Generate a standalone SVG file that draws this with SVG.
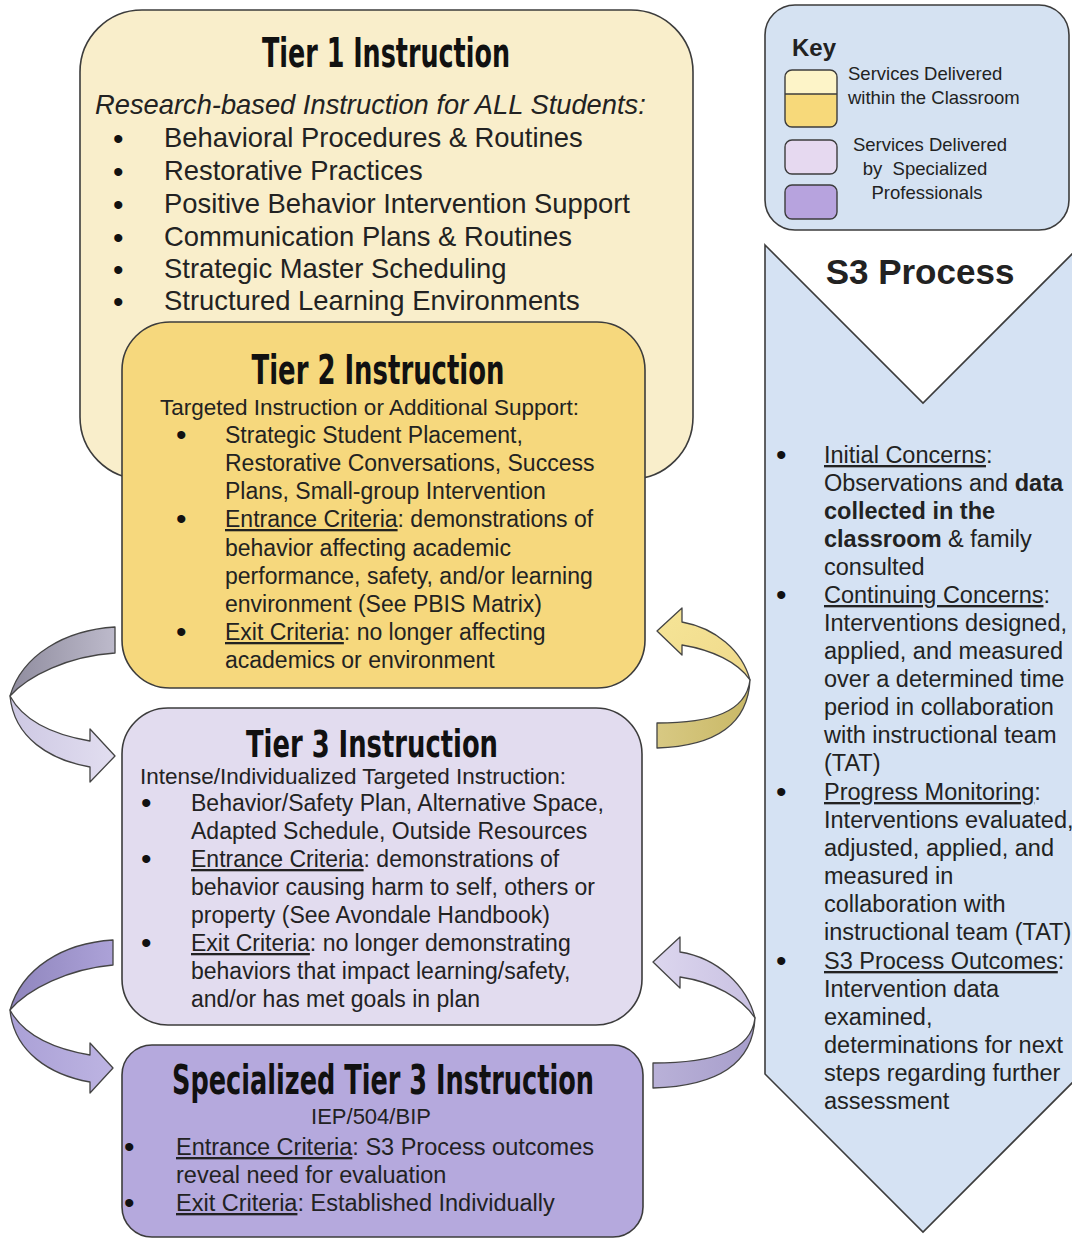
<svg xmlns="http://www.w3.org/2000/svg" width="1072" height="1239" viewBox="0 0 1072 1239">
<style>
.box{stroke:#3c3c3c;stroke-width:1.6}
.t{font-family:"Liberation Sans",Arial,sans-serif;fill:#222}
.b{font-size:30px;fill:#111}
.title{font-family:"DejaVu Sans Condensed","Liberation Sans Narrow","DejaVu Sans",sans-serif;font-weight:bold;fill:#111}
.arr{stroke:#444;stroke-width:1.3;stroke-linejoin:round}
.u{text-decoration:underline}
</style>
<defs>
<linearGradient id="gGray" x1="0" y1="0" x2="1" y2="0"><stop offset="0" stop-color="#8f8c9e"/><stop offset="1" stop-color="#bdbacb"/></linearGradient>
<linearGradient id="gLav" x1="0" y1="0" x2="1" y2="0"><stop offset="0" stop-color="#cdc8e3"/><stop offset="1" stop-color="#e2def0"/></linearGradient>
<linearGradient id="gYel" x1="0" y1="0" x2="1" y2="1"><stop offset="0" stop-color="#f6e597"/><stop offset="1" stop-color="#efd98b"/></linearGradient>
<linearGradient id="gOlive" x1="0" y1="0" x2="1" y2="0"><stop offset="0" stop-color="#d8c983"/><stop offset="1" stop-color="#c9b866"/></linearGradient>
<linearGradient id="gPur1" x1="0" y1="0" x2="1" y2="0"><stop offset="0" stop-color="#8f85bd"/><stop offset="1" stop-color="#aca2d8"/></linearGradient>
<linearGradient id="gPur2" x1="0" y1="0" x2="1" y2="0"><stop offset="0" stop-color="#aaa0d6"/><stop offset="1" stop-color="#bdb4e2"/></linearGradient>
<linearGradient id="gLav2" x1="0" y1="0" x2="1" y2="0"><stop offset="0" stop-color="#dcd6ee"/><stop offset="1" stop-color="#c9c1e2"/></linearGradient>
<linearGradient id="gLav3" x1="0" y1="0" x2="1" y2="0"><stop offset="0" stop-color="#b9b1d8"/><stop offset="1" stop-color="#a79ecb"/></linearGradient>
</defs>

<g id="tier1">
<rect class="box" x="80" y="10" width="613" height="469" rx="62" fill="#f9eecb"/>
<text class="title" x="386" y="67" font-size="40" text-anchor="middle" textLength="248" lengthAdjust="spacingAndGlyphs">Tier 1 Instruction</text>
<text class="t" x="95" y="114" font-size="27.3" font-style="italic">Research-based Instruction for ALL Students:</text>
<g class="t" font-size="27.4">
<text class="b" x="113" y="149">•</text><text x="164" y="147">Behavioral Procedures &amp; Routines</text>
<text class="b" x="113" y="182">•</text><text x="164" y="180">Restorative Practices</text>
<text class="b" x="113" y="215">•</text><text x="164" y="213">Positive Behavior Intervention Support</text>
<text class="b" x="113" y="248">•</text><text x="164" y="246">Communication Plans &amp; Routines</text>
<text class="b" x="113" y="280">•</text><text x="164" y="278">Strategic Master Scheduling</text>
<text class="b" x="113" y="312">•</text><text x="164" y="310">Structured Learning Environments</text>
</g>
</g>

<g id="tier2">
<rect class="box" x="122" y="322" width="523" height="366" rx="48" fill="#f6d87d"/>
<text class="title" x="378" y="384" font-size="40" text-anchor="middle" textLength="253" lengthAdjust="spacingAndGlyphs">Tier 2 Instruction</text>
<g class="t" font-size="23">
<text x="160" y="415" font-size="22.5">Targeted Instruction or Additional Support:</text>
<text class="b" x="176" y="445">•</text><text x="225" y="443">Strategic Student Placement,</text>
<text x="225" y="471">Restorative Conversations, Success</text>
<text x="225" y="499">Plans, Small-group Intervention</text>
<text class="b" x="176" y="529">•</text><text x="225" y="527"><tspan class="u">Entrance Criteria</tspan>: demonstrations of</text>
<text x="225" y="556">behavior affecting academic</text>
<text x="225" y="584">performance, safety, and/or learning</text>
<text x="225" y="612">environment (See PBIS Matrix)</text>
<text class="b" x="176" y="642">•</text><text x="225" y="640"><tspan class="u">Exit Criteria</tspan>: no longer affecting</text>
<text x="225" y="668">academics or environment</text>
</g>
</g>

<g id="tier3">
<rect class="box" x="122" y="708" width="520" height="317" rx="46" fill="#e2dcef"/>
<text class="title" x="372" y="757" font-size="37" text-anchor="middle" textLength="252" lengthAdjust="spacingAndGlyphs">Tier 3 Instruction</text>
<g class="t" font-size="23">
<text x="140" y="784" font-size="22.5">Intense/Individualized Targeted Instruction:</text>
<text class="b" x="141" y="813">•</text><text x="191" y="811">Behavior/Safety Plan, Alternative Space,</text>
<text x="191" y="839">Adapted Schedule, Outside Resources</text>
<text class="b" x="141" y="869">•</text><text x="191" y="867"><tspan class="u">Entrance Criteria</tspan>: demonstrations of</text>
<text x="191" y="895">behavior causing harm to self, others or</text>
<text x="191" y="923">property (See Avondale Handbook)</text>
<text class="b" x="141" y="953">•</text><text x="191" y="951"><tspan class="u">Exit Criteria</tspan>: no longer demonstrating</text>
<text x="191" y="979">behaviors that impact learning/safety,</text>
<text x="191" y="1007">and/or has met goals in plan</text>
</g>
</g>

<g id="specialized">
<rect class="box" x="122" y="1045" width="521" height="192" rx="30" fill="#b5a9dd"/>
<text class="title" x="383" y="1094" font-size="40" text-anchor="middle" textLength="422" lengthAdjust="spacingAndGlyphs">Specialized Tier 3 Instruction</text>
<g class="t" font-size="23.5">
<text x="371" y="1124" text-anchor="middle" font-size="22">IEP/504/BIP</text>
<text class="b" x="124" y="1157">•</text><text x="176" y="1155"><tspan class="u">Entrance Criteria</tspan>: S3 Process outcomes</text>
<text x="176" y="1183">reveal need for evaluation</text>
<text class="b" x="124" y="1213">•</text><text x="176" y="1211"><tspan class="u">Exit Criteria</tspan>: Established Individually</text>
</g>
</g>

<g id="key">
<rect class="box" x="765" y="5" width="304" height="225" rx="30" fill="#d5e2f2"/>
<text class="t" x="792" y="56" font-size="24" font-weight="bold" fill="#111">Key</text>
<rect x="785" y="70" width="52" height="57" rx="7" fill="#f7d97a"/>
<path d="M785,94 V77 a7,7 0 0 1 7,-7 H830 a7,7 0 0 1 7,7 V94 Z" fill="#fdf4c8"/>
<rect x="785" y="70" width="52" height="57" rx="7" fill="none" stroke="#3c3c3c" stroke-width="1.4"/>
<line x1="785" y1="94" x2="837" y2="94" stroke="#3c3c3c" stroke-width="1.4"/>
<rect x="785" y="140" width="52" height="34" rx="7" fill="#e6d9f0" stroke="#3c3c3c" stroke-width="1.4"/>
<rect x="785" y="185" width="52" height="34" rx="7" fill="#b7a3de" stroke="#3c3c3c" stroke-width="1.4"/>
<g class="t" font-size="18.5" fill="#333">
<text x="848" y="80">Services Delivered</text>
<text x="848" y="104">within the Classroom</text>
<text x="930" y="151" text-anchor="middle">Services Delivered</text>
<text x="925" y="175" text-anchor="middle">by&#160; Specialized</text>
<text x="927" y="199" text-anchor="middle">Professionals</text>
</g>
</g>

<g id="s3process">
<polygon class="box" points="765,245 923,403 1085,241 1085,1070 923,1232 765,1074" fill="#d5e2f3"/>
<text class="t" x="920" y="284" font-size="35" font-weight="bold" text-anchor="middle" fill="#111">S3 Process</text>
<g class="t" font-size="23.5">
<text class="b" x="776" y="465">•</text><text x="824" y="463"><tspan class="u">Initial Concerns</tspan>:</text>
<text x="824" y="491">Observations and <tspan font-weight="bold">data</tspan></text>
<text x="824" y="519" font-weight="bold">collected in the</text>
<text x="824" y="547"><tspan font-weight="bold">classroom</tspan> &amp; family</text>
<text x="824" y="575">consulted</text>
<text class="b" x="776" y="605">•</text><text x="824" y="603"><tspan class="u">Continuing Concerns</tspan>:</text>
<text x="824" y="631">Interventions designed,</text>
<text x="824" y="659">applied, and measured</text>
<text x="824" y="687">over a determined time</text>
<text x="824" y="715">period in collaboration</text>
<text x="824" y="743">with instructional team</text>
<text x="824" y="771">(TAT)</text>
<text class="b" x="776" y="802">•</text><text x="824" y="800"><tspan class="u">Progress Monitoring</tspan>:</text>
<text x="824" y="828">Interventions evaluated,</text>
<text x="824" y="856">adjusted, applied, and</text>
<text x="824" y="884">measured in</text>
<text x="824" y="912">collaboration with</text>
<text x="824" y="940">instructional team (TAT)</text>
<text class="b" x="776" y="971">•</text><text x="824" y="969"><tspan class="u">S3 Process Outcomes</tspan>:</text>
<text x="824" y="997">Intervention data</text>
<text x="824" y="1025">examined,</text>
<text x="824" y="1053">determinations for next</text>
<text x="824" y="1081">steps regarding further</text>
<text x="824" y="1109">assessment</text>
</g>
</g>

<g id="connectors">
<path class="arr" d="M115,627 C65,630 22,655 10,696 C28,676 68,656 115,653 Z" fill="url(#gGray)"/>
<path class="arr" d="M10,696 C14,738 50,760 90,767 L90,782 L115,756 L90,729 L90,741 C55,735 24,722 10,696 Z" fill="url(#gLav)"/>
<path class="arr" d="M750,680 C742,650 715,628 682,622 L682,608 L657,631 L682,655 L682,645 C712,650 738,662 750,680 Z" fill="url(#gYel)"/>
<path class="arr" d="M750,680 C746,712 712,723 657,723 L657,748 C718,746 748,722 750,680 Z" fill="url(#gOlive)"/>
<path class="arr" d="M113,940 C63,943 22,968 10,1010 C28,989 68,969 113,965 Z" fill="url(#gPur1)"/>
<path class="arr" d="M10,1010 C14,1052 50,1075 90,1082 L90,1093 L113,1068 L90,1043 L90,1055 C55,1049 24,1036 10,1010 Z" fill="url(#gPur2)"/>
<path class="arr" d="M755,1018 C747,986 718,958 680,952 L680,937 L653,962 L680,988 L680,977 C714,982 742,998 755,1018 Z" fill="url(#gLav2)"/>
<path class="arr" d="M755,1018 C751,1050 716,1063 653,1063 L653,1088 C722,1086 753,1060 755,1018 Z" fill="url(#gLav3)"/>
</g>
</svg>
